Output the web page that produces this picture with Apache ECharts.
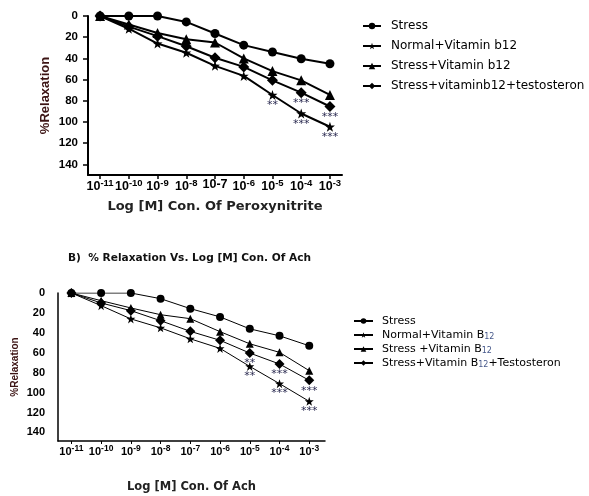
<!DOCTYPE html>
<html>
<head>
<meta charset="utf-8">
<script src="https://cdn.jsdelivr.net/npm/echarts@6/dist/echarts.min.js"></script>
<style>
  html, body { margin: 0; padding: 0; background: #fff; }
  #chart { width: 589px; height: 496px; }
</style>
</head>
<body>
<div id="chart"></div>
<script>
// log [M] concentration (exponent) for each point
var xExp = [-11, -10, -9, -8, -7, -6, -5, -4, -3];
var yTicks = [0, 20, 40, 60, 80, 100, 120, 140];
var topXLabels = ['10^-11', '10^-10', '10^-9', '10^-8', '10-7', '10^-6', '10^-5', '10^-4', '10^-3'];
var botXLabels = ['10^-11', '10^-10', '10^-9', '10^-8', '10^-7', '10^-6', '10^-5', '10^-4', '10^-3'];

// A) peroxynitrite
var topStress = [0, 0, 0, 5.6, 16.5, 27.5, 34, 40.3, 45];
var topNormalB12 = [0, 12, 26, 34.7, 47, 56.5, 74.5, 92, 104.5];
var topStressB12 = [0, 8, 16, 22, 25, 40, 52, 60.7, 74.5];
var topStressB12T = [0, 10, 19, 28.5, 39.4, 48, 60.7, 72.3, 85.4];
var topSigNormal = ['', '', '', '', '', '', '**', '***', '***'];
var topSigB12T = ['', '', '', '', '', '', '', '***', '***'];

// B) Ach
var botStress = [0, 0, 0, 5.7, 15.7, 24, 36, 43, 53];
var botNormalB12 = [0, 12.7, 26, 35, 46, 55.6, 73.7, 91, 108.8];
var botStressB12 = [0, 7.7, 15, 21.8, 25.8, 38.8, 51, 59.6, 78];
var botStressB12T = [0, 10, 17.7, 27.8, 38.5, 47.5, 60.3, 71.3, 87.7];
var botSigNormal = ['', '', '', '', '', '', '**', '***', '***'];
var botSigB12T = ['', '', '', '', '', '', '**', '***', '***'];

var starPath = 'path://M50 0 L61.76 33.82 L97.55 34.55 L69.02 56.18 L79.39 90.45 L50 70 L20.61 90.45 L30.98 56.18 L2.45 34.55 L38.24 33.82 Z';

function pairs(vals, sig) {
    return vals.map(function (v, i) {
        var item = {value: [xExp[i], v]};
        if (sig && sig[i]) {
            item.label = {show: true, formatter: sig[i]};
        }
        return item;
    });
}

function tickFormatter(labels) {
    return function (v) {
        var s = labels[xExp.indexOf(v)] || '';
        var p = s.split('^');
        if (p.length < 2) return '{b|' + s + '}';
        return '{b|' + p[0] + '}{s|' + p[1] + '}';
    };
}

function makeSeries(name, grid, vals, sig, symbol, size, width) {
    return {
        name: name,
        type: 'line',
        xAxisIndex: grid,
        yAxisIndex: grid,
        data: pairs(vals, sig),
        symbol: symbol,
        symbolSize: size,
        showAllSymbol: true,
        color: '#000',
        lineStyle: {color: '#000', width: width},
        itemStyle: {color: '#000'},
        label: {
            show: false,
            position: 'bottom',
            distance: 0,
            fontSize: 11,
            fontFamily: 'DejaVu Sans',
            color: '#2a2a50'
        },
        emphasis: {disabled: true},
        animation: false
    };
}

var chart = echarts.init(document.getElementById('chart'));

function xRich(base, sup) {
    return {
        b: {fontSize: base, fontWeight: 'bold', fontFamily: 'Liberation Sans', color: '#000'},
        s: {fontSize: sup, fontWeight: 'bold', fontFamily: 'Liberation Sans', color: '#000', padding: [0, 0, Math.round(base * 0.55), 0]}
    };
}

var option = {
    backgroundColor: '#fff',
    title: {
        text: 'B)  % Relaxation Vs. Log [M] Con. Of Ach',
        left: 68,
        top: 253,
        padding: 0,
        textStyle: {fontSize: 10.6, fontWeight: 'bold', fontFamily: 'DejaVu Sans', color: '#111'}
    },
    legend: [
        {
            data: ['Stress', 'Normal+Vitamin b12', 'Stress+Vitamin b12', 'Stress+vitaminb12+testosteron'],
            orient: 'vertical',
            left: 362,
            top: 19,
            padding: 0,
            itemWidth: 18,
            itemHeight: 8,
            itemGap: 6,
            textStyle: {fontSize: 12, fontFamily: 'DejaVu Sans', color: '#000', lineHeight: 14, padding: [0, 0, 0, 5]}
        },
        {
            data: ['B: Stress', 'B: Normal+Vitamin B12', 'B: Stress +Vitamin B12', 'B: Stress+Vitamin B12+Testosteron'],
            orient: 'vertical',
            left: 353,
            top: 315,
            padding: 0,
            itemWidth: 19,
            itemHeight: 7,
            itemGap: 2,
            formatter: function (name) {
                return name.replace('B: ', '').replace('B12', 'B{sub|12}');
            },
            textStyle: {
                fontSize: 11, fontFamily: 'DejaVu Sans', color: '#000', lineHeight: 12, padding: [0, 0, 0, 4],
                rich: {
                    sub: {fontSize: 8, fontFamily: 'DejaVu Sans', color: '#46588a', padding: [4, 0, 0, 0]}
                }
            }
        }
    ],
    grid: [
        {left: 88, top: 16, width: 254, height: 159},
        {left: 58, top: 293, width: 267, height: 148}
    ],
    xAxis: [
        {
            gridIndex: 0,
            type: 'value',
            min: -11.42,
            max: -2.58,
            name: 'Log [M] Con. Of Peroxynitrite',
            nameLocation: 'middle',
            nameGap: 25,
            nameTextStyle: {fontSize: 13, fontWeight: 'bold', fontFamily: 'DejaVu Sans', color: '#222'},
            axisLine: {onZero: false, lineStyle: {color: '#000', width: 2}},
            axisTick: {show: true, length: 4, customValues: xExp, lineStyle: {color: '#000', width: 1.5}},
            axisLabel: {margin: 3, customValues: xExp, formatter: tickFormatter(topXLabels), rich: xRich(12.5, 9.5)},
            splitLine: {show: false}
        },
        {
            gridIndex: 1,
            type: 'value',
            min: -11.45,
            max: -2.47,
            name: 'Log [M] Con. Of Ach',
            nameLocation: 'middle',
            nameGap: 40,
            nameTextStyle: {fontSize: 11.5, fontWeight: 'bold', fontFamily: 'DejaVu Sans', color: '#222'},
            axisLine: {onZero: false, lineStyle: {color: '#000', width: 1.5}},
            axisTick: {show: true, length: 3, customValues: xExp, lineStyle: {color: '#000', width: 1}},
            axisLabel: {margin: 3, customValues: xExp, formatter: tickFormatter(botXLabels), rich: xRich(11, 8.5)},
            splitLine: {show: false}
        }
    ],
    yAxis: [
        {
            gridIndex: 0,
            type: 'value',
            inverse: true,
            min: 0,
            max: 150,
            name: '%Relaxation',
            nameLocation: 'middle',
            nameGap: 36,
            nameTextStyle: {fontSize: 13, fontWeight: 'bold', fontFamily: 'Liberation Sans', color: '#3c1414'},
            axisLine: {onZero: false, lineStyle: {color: '#000', width: 2}},
            axisTick: {show: true, length: 5, customValues: yTicks, lineStyle: {color: '#000', width: 1.5}},
            axisLabel: {margin: 10, customValues: yTicks, fontSize: 11.5, fontWeight: 'bold', fontFamily: 'Liberation Sans', color: '#000'},
            splitLine: {show: false}
        },
        {
            gridIndex: 1,
            type: 'value',
            inverse: true,
            min: 0,
            max: 148.6,
            name: '%Relaxation',
            nameLocation: 'middle',
            nameGap: 38,
            nameTextStyle: {fontSize: 10, fontWeight: 'bold', fontFamily: 'Liberation Sans', color: '#3c1414'},
            axisLine: {onZero: false, lineStyle: {color: '#000', width: 1.5}},
            axisTick: {show: false},
            axisLabel: {margin: 13, customValues: yTicks, fontSize: 11, fontWeight: 'bold', fontFamily: 'Liberation Sans', color: '#000'},
            splitLine: {show: false}
        }
    ],
    series: [
        makeSeries('Stress', 0, topStress, null, 'circle', 9, 2),
        makeSeries('Normal+Vitamin b12', 0, topNormalB12, topSigNormal, starPath, 10, 2),
        makeSeries('Stress+Vitamin b12', 0, topStressB12, null, 'triangle', 10, 2),
        makeSeries('Stress+vitaminb12+testosteron', 0, topStressB12T, topSigB12T, 'diamond', 11, 2),
        makeSeries('B: Stress', 1, botStress, null, 'circle', 8, 1),
        makeSeries('B: Normal+Vitamin B12', 1, botNormalB12, botSigNormal, starPath, 9, 1),
        makeSeries('B: Stress +Vitamin B12', 1, botStressB12, null, 'triangle', 8, 1),
        makeSeries('B: Stress+Vitamin B12+Testosteron', 1, botStressB12T, botSigB12T, 'diamond', 10, 1)
    ]
};

chart.setOption(option);
</script>
</body>
</html>
